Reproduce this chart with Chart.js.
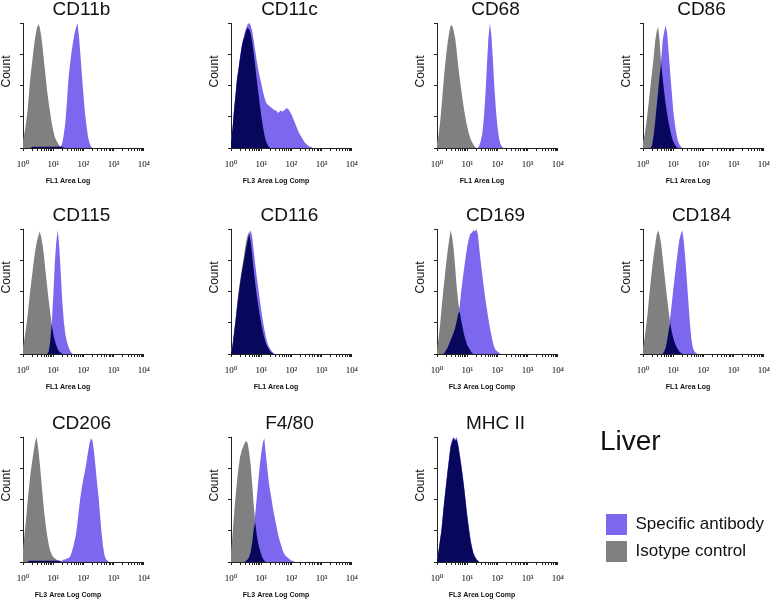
<!DOCTYPE html>
<html>
<head>
<meta charset="utf-8">
<script src="https://cdn.jsdelivr.net/npm/chart.js@4.4.0/dist/chart.umd.min.js"></script>
<style>
  html, body { margin: 0; padding: 0; background: #fff; overflow: hidden; }
  body { width: 778px; height: 599px; position: relative; }
  canvas { position: absolute; }
</style>
</head>
<body>
<script>
// histogram bins, in decades (10^0 .. 10^3, step 0.05)
const logBins = [0,0.05,0.1,0.15,0.2,0.25,0.3,0.35,0.4,0.45,0.5,0.55,0.6,0.65,0.7,0.75,0.8,0.85,0.9,0.95,
  1,1.05,1.1,1.15,1.2,1.25,1.3,1.35,1.4,1.45,1.5,1.55,1.6,1.65,1.7,1.75,1.8,1.85,1.9,1.95,
  2,2.05,2.1,2.15,2.2,2.25,2.3,2.35,2.4,2.45,2.5,2.55,2.6,2.65,2.7,2.75,2.8,2.85,2.9,2.95,3];

const markers = ['CD11b', 'CD11c', 'CD68', 'CD86', 'CD115', 'CD116', 'CD169', 'CD184', 'CD206', 'F4/80', 'MHC II'];
const channels = ['FL1 Area Log', 'FL3 Area Log Comp', 'FL1 Area Log', 'FL1 Area Log',
  'FL1 Area Log', 'FL1 Area Log', 'FL3 Area Log Comp', 'FL1 Area Log',
  'FL3 Area Log Comp', 'FL3 Area Log Comp', 'FL3 Area Log Comp'];
const xTickLabels = ['10\u2070', '10\u00b9', '10\u00b2', '10\u00b3', '10\u2074'];

// counts (% of max), one value per bin, trailing zeros left out
const isoCD11b = [6,12,20,30,44,58,68,79,88,95,99,97,90,80,68,57,45,36,28,20,14,9,6,4,2,1,1,0];
const specCD11b = [0,0,0,0,0,0,1,1,1,1,1,1,1,1,1,1,1,1,1,1,1,1,1,1,1,1,4,11,20,36,54,66,76,84,91,96,100,90,74,58,42,28,18,9,4,1,0];
const isoCD11c = [5,15,30,42,55,63,72,80,86,89,94,96,95,92,85,76,66,55,45,35,26,18,11,6,3,1,0];
const specCD11c = [6,16,31,43,56,64,73,81,87,92,96,99,100,98,94,86,78,70,63,57,52,46,41,37,35,34,33,32,31,30,30,28,29,30,29,30,31,32,31,29,27,24,21,18,15,12,10,8,6,4,3,2,1,1,0];
const isoCD68 = [4,10,20,33,48,62,74,84,92,98,98,94,88,78,66,56,47,38,30,23,17,12,8,5,3,1,0];
const specCD68 = [0,0,0,0,0,0,0,0,0,0,0,0,0,0,0,0,0,0,0,0,0,0,0,0,0,0,0,0,2,6,12,24,42,66,88,100,90,70,48,30,17,8,3,1,0];
const isoCD86 = [5,10,18,28,39,50,61,72,85,93,97,86,68,56,45,35,27,20,14,9,5,3,1,0];
const specCD86 = [0,0,0,0,0,0,2,10,20,33,45,58,70,86,93,98,92,76,60,45,30,20,12,6,3,1,0];
const isoCD115 = [6,12,21,30,42,53,63,73,82,89,94,98,94,87,77,65,54,43,33,24,16,11,7,4,2,1,0];
const specCD115 = [0,0,0,0,0,0,0,0,0,0,0,0,0,0,0,0,0,2,10,24,46,72,90,99,86,64,42,26,16,10,6,3,1,0];
const isoCD116 = [2,8,18,28,40,50,59,67,74,82,90,95,98,90,79,67,57,47,39,31,24,18,13,9,6,4,2,1,0];
const specCD116 = [1,6,16,26,37,47,56,64,71,78,85,91,96,99,94,83,72,62,53,44,35,27,20,14,9,6,4,2,1,0];
const isoCD169 = [4,12,23,36,49,60,72,82,91,99,94,84,70,54,42,34,27,21,15,11,7,5,3,1,0];
const specCD169 = [0,0,0,0,0,1,3,5,8,11,14,17,21,26,32,38,50,60,69,78,86,92,96,97,99,98,100,96,84,73,63,53,44,36,28,21,15,9,5,3,2,1,0];
const isoCD184 = [5,12,22,32,45,57,68,78,87,95,99,95,88,77,66,55,44,34,25,18,13,9,6,4,2,1,0];
const specCD184 = [0,0,0,0,0,0,0,0,0,0,0,0,0,0,2,5,11,19,29,40,51,62,72,82,91,96,99,90,76,59,42,25,12,5,2,1,0];
const isoCD206 = [10,22,34,48,60,71,80,88,96,100,92,80,67,53,40,30,21,14,9,6,4,3,2,1,1,0];
const specCD206 = [0,0,0,0,1,1,1,1,1,1,1,1,1,1,1,1,1,1,1,1,1,1,1,1,1,1,1,2,2,3,3,4,7,11,16,22,31,42,52,60,67,73,80,88,95,99,97,88,76,63,52,37,23,12,5,2,1,0];
const isoF480 = [8,22,38,52,65,76,84,89,92,95,97,95,88,78,63,46,32,22,15,10,6,3,1,0];
const specF480 = [0,0,0,0,0,0,0,0,0,0,1,2,4,8,15,26,38,51,64,77,87,95,99,87,75,64,56,49,41,35,29,23,18,14,10,7,5,4,3,2,1,1,0];
const isoMHCII = [2,8,17,25,38,50,61,72,82,92,96,99,97,98,93,85,77,68,58,47,36,27,18,12,7,4,2,1,0];
const specMHCII = [3,9,18,27,40,52,63,74,84,94,98,100,98,100,95,87,79,70,60,49,38,29,20,13,8,5,3,1,0];

const isotype = [isoCD11b, isoCD11c, isoCD68, isoCD86, isoCD115, isoCD116, isoCD169, isoCD184, isoCD206, isoF480, isoMHCII];
const specific = [specCD11b, specCD11c, specCD68, specCD86, specCD115, specCD116, specCD169, specCD184, specCD206, specF480, specMHCII];

const PURPLE = '#7b68ee';
const GRAY = '#808080';
const NAVY = '#07075c';
const SANS = "'Liberation Sans', Arial, sans-serif";

Chart.defaults.font.family = SANS;
Chart.defaults.color = '#111';

// plot-area corners of each panel
const colLeft = [23, 231, 437, 643];
const rowTop = [23, 229, 437];

function toPoints(counts) {
  return counts.map((c, i) => ({ x: Math.pow(10, logBins[i]), y: c }));
}

function overlap(a, b) {
  const n = Math.max(a.length, b.length);
  const out = [];
  for (let i = 0; i < n; i++) out.push(Math.min(a[i] || 0, b[i] || 0));
  return out;
}

function isDecade(v) {
  const e = Math.log10(v);
  return Math.abs(e - Math.round(e)) < 1e-6;
}

// marker name, "Count" and channel name around the plot area
const panelText = {
  id: 'panelText',
  afterDraw(chart, args, opts) {
    const { ctx, chartArea: a } = chart;
    ctx.save();
    ctx.fillStyle = '#111';
    ctx.textAlign = 'center';
    ctx.textBaseline = 'middle';
    ctx.font = '19px ' + SANS;
    ctx.fillText(opts.title, (a.left + a.right) / 2 - 2, a.top - 13);
    ctx.font = 'bold 7px ' + SANS;
    ctx.fillText(opts.xLabel, a.left + 45, a.bottom + 33);
    ctx.translate(a.left - 16, (a.top + a.bottom) / 2 - 14);
    ctx.rotate(-Math.PI / 2);
    ctx.font = '12px ' + SANS;
    ctx.fillText('Count', 0, 0);
    ctx.restore();
  }
};

function addCanvas(left, top, w, h) {
  const c = document.createElement('canvas');
  c.width = w;
  c.height = h;
  c.style.left = left + 'px';
  c.style.top = top + 'px';
  document.body.appendChild(c);
  return c;
}

const fillStyle = { fill: 'origin', borderWidth: 0, pointRadius: 0, tension: 0 };

markers.forEach((name, k) => {
  const col = k % 4, row = Math.floor(k / 4);
  const cv = addCanvas(colLeft[col] - 25, rowTop[row] - 25, 160, 190);
  const iso = isotype[k], spec = specific[k];
  new Chart(cv, {
    type: 'line',
    data: {
      datasets: [
        { ...fillStyle, data: toPoints(overlap(iso, spec)), backgroundColor: NAVY, order: 0 },
        { ...fillStyle, data: toPoints(spec), backgroundColor: PURPLE, order: 1 },
        { ...fillStyle, data: toPoints(iso), backgroundColor: GRAY, order: 2 }
      ]
    },
    options: {
      responsive: false,
      animation: false,
      events: [],
      layout: { padding: { top: 25, right: 9, left: 0, bottom: 0 } },
      scales: {
        x: {
          type: 'logarithmic',
          min: 1,
          max: 10000,
          afterBuildTicks(s) {
            s.ticks = s.ticks.filter(t => {
              const m = t.value / Math.pow(10, Math.floor(Math.log10(t.value) + 1e-9));
              return Math.abs(m - Math.round(m)) < 1e-6;
            });
          },
          afterFit(s) { s.height = 40; },
          ticks: {
            autoSkip: false,
            maxRotation: 0,
            padding: 8,
            color: '#000',
            font: { family: "'Liberation Serif', 'DejaVu Serif', serif", size: 9 },
            callback: v => isDecade(v) ? xTickLabels[Math.round(Math.log10(v))] : ''
          },
          grid: { drawOnChartArea: false, tickLength: 3, color: '#222' },
          border: { color: '#222', width: 1 }
        },
        y: {
          min: 0,
          max: 100,
          afterFit(s) { s.width = 25; },
          ticks: { display: false, stepSize: 25 },
          grid: { drawOnChartArea: false, tickLength: 3, color: '#222' },
          border: { color: '#222', width: 1 }
        }
      },
      plugins: {
        legend: { display: false },
        tooltip: { enabled: false },
        panelText: { title: name, xLabel: channels[k] }
      }
    },
    plugins: [panelText]
  });
});

// "Liver" heading and the shared legend
const lg = addCanvas(600, 425, 178, 147);
new Chart(lg, {
  type: 'bar',
  data: {
    labels: [],
    datasets: [
      { label: 'Specific antibody', data: [], backgroundColor: PURPLE, borderWidth: 0 },
      { label: 'Isotype control', data: [], backgroundColor: GRAY, borderWidth: 0 }
    ]
  },
  options: {
    responsive: false,
    animation: false,
    events: [],
    scales: { x: { display: false }, y: { display: false } },
    plugins: {
      tooltip: { enabled: false },
      title: {
        display: true,
        text: 'Liver',
        align: 'start',
        color: '#111',
        font: { size: 28, weight: 'normal' },
        padding: 0
      },
      legend: {
        position: 'bottom',
        align: 'start',
        labels: { boxWidth: 21, boxHeight: 21, padding: 6, color: '#111', font: { size: 17 } }
      }
    }
  }
});
</script>
</body>
</html>
